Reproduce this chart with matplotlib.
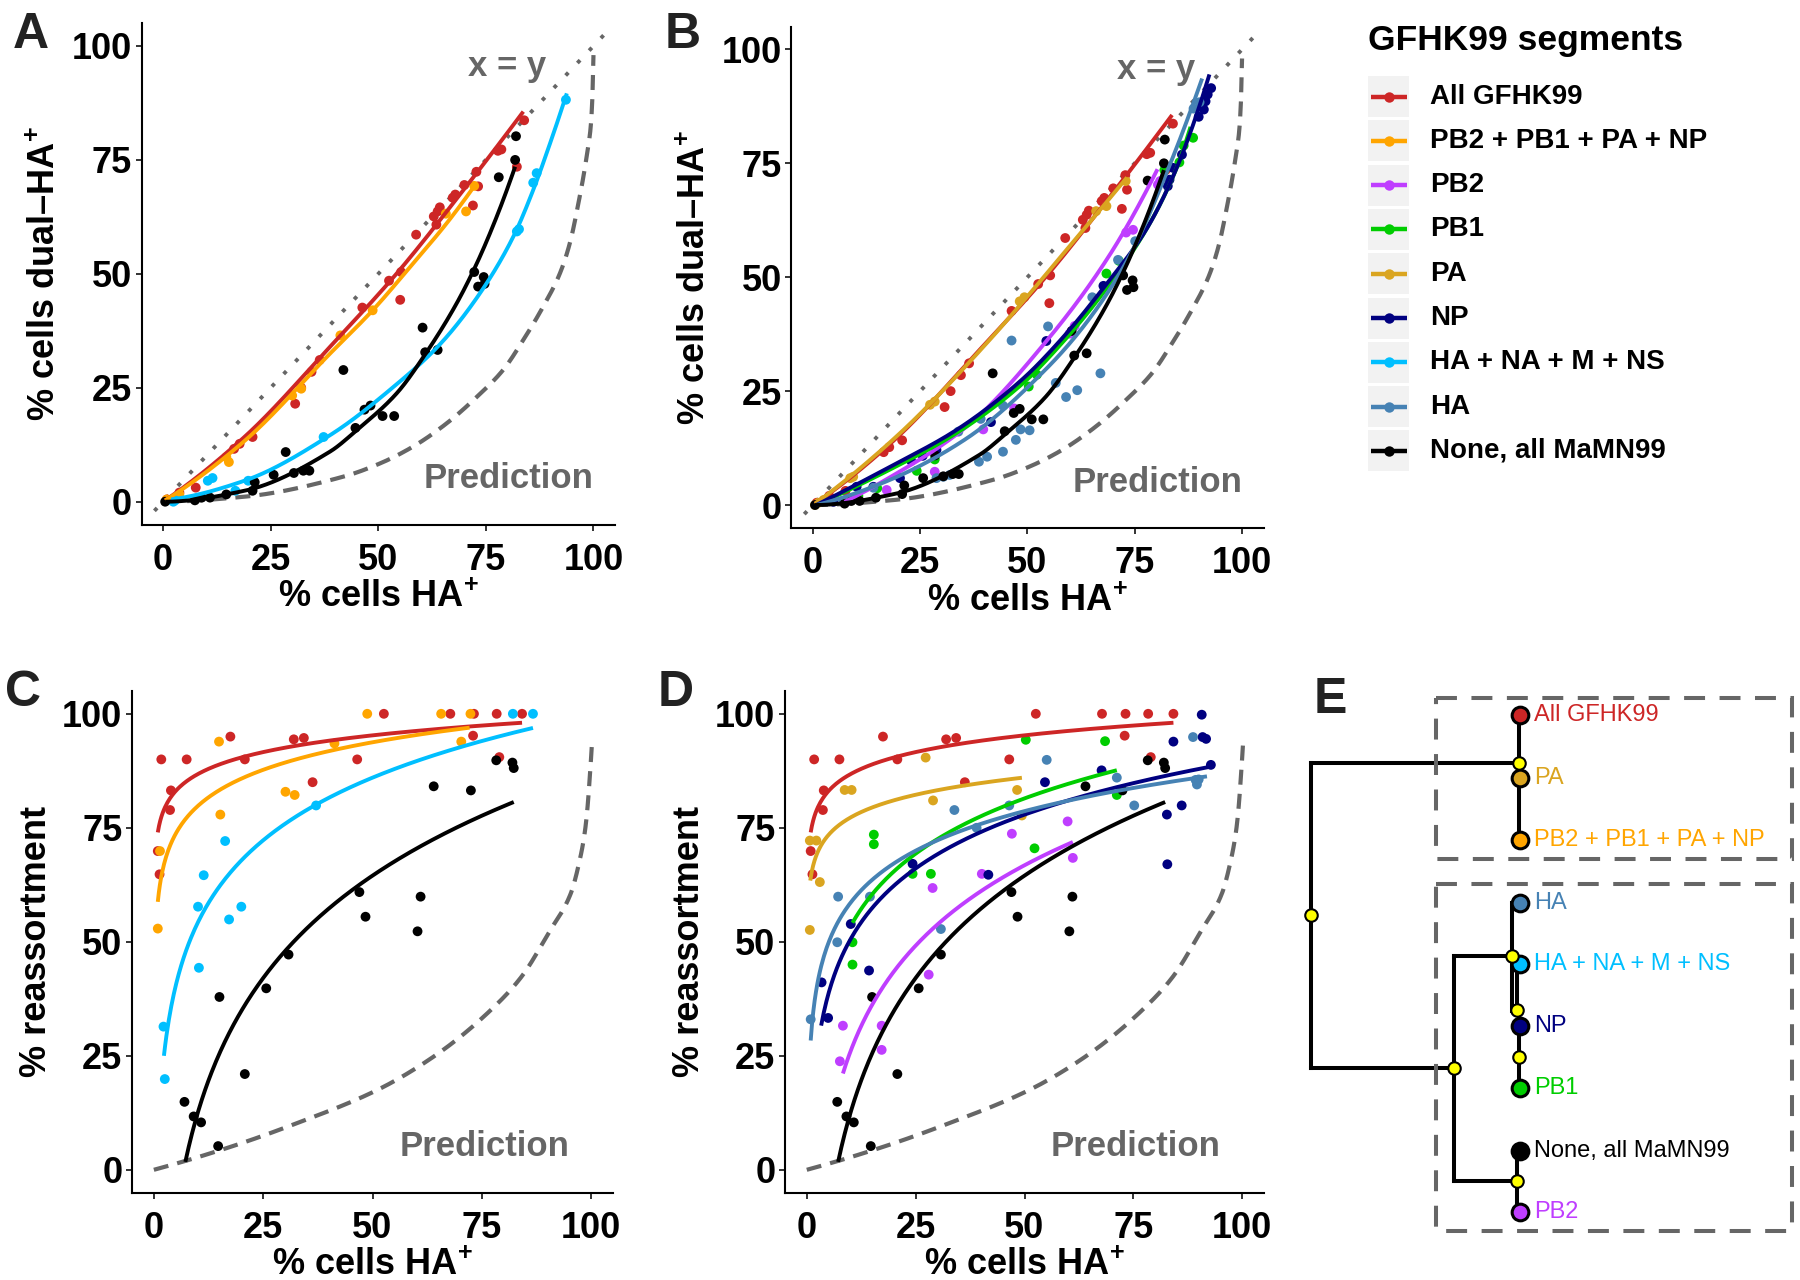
import numpy as np
import matplotlib
matplotlib.use("Agg")
import matplotlib.pyplot as plt
from matplotlib.patches import Rectangle

plt.rcParams['font.family'] = ['Liberation Sans', 'DejaVu Sans']
plt.rcParams['font.weight'] = 'bold'
plt.rcParams['axes.labelweight'] = 'bold'
plt.rcParams['mathtext.fontset'] = 'custom'
plt.rcParams['mathtext.rm'] = 'Liberation Sans:bold'
plt.rcParams['mathtext.bf'] = 'Liberation Sans:bold'

# ---------------- categories ----------------
segments = ['All GFHK99', 'PB2 + PB1 + PA + NP', 'PB2', 'PB1', 'PA', 'NP',
            'HA + NA + M + NS', 'HA', 'None, all MaMN99']
seg_colors = ['#CD2626', '#FFA500', '#BF3EFF', '#00CD00', '#DAA520', '#000080',
              '#00BFFF', '#4682B4', '#000000']
ticks = [0, 25, 50, 75, 100]

# ---------------- panels A/B : % dual-HA+ vs % HA+ ----------------
dual_all_x = [0.9, 3.8, 7.6, 16.5, 17.8, 20.8, 30.7, 32.1, 34.5, 36.4, 46.3, 52.5, 55.3, 55.1, 58.8,
              62.9, 63.5, 63.8, 64.3, 67.3, 67.9, 70.0, 72.0, 72.8, 73.2, 77.8, 78.6, 82.2, 83.9]
dual_all_y = [0.5, 2.0, 3.1, 11.6, 12.7, 14.2, 21.5, 25.0, 28.5, 31.1, 42.6, 48.5, 50.4, 44.3, 58.6,
              62.6, 60.8, 63.7, 64.6, 66.7, 67.4, 69.5, 65.0, 72.4, 69.2, 77.0, 77.3, 73.5, 83.7]
dual_none_x = [0.5, 7.4, 9.0, 10.9, 14.7, 20.8, 21.3, 25.7, 28.5, 30.4, 32.6, 34.0, 41.9, 44.7,
               46.8, 48.2, 51.0, 53.7, 60.3, 60.9, 63.8, 72.3, 73.2, 74.5, 74.7, 78.0, 81.8, 82.0]
dual_none_y = [0.0, 0.3, 0.9, 0.9, 1.6, 2.4, 4.3, 5.9, 10.9, 6.3, 6.8, 6.8, 28.9, 16.2,
               20.2, 21.1, 18.8, 18.8, 38.2, 32.8, 33.3, 50.4, 47.2, 49.3, 47.8, 71.2, 75.0, 80.2]
dual_pb_x = [0.9, 3.8, 14.7, 15.3, 30.0, 32.1, 41.2, 48.7, 65.7, 70.4, 72.3]
dual_pb_y = [0.5, 1.6, 9.8, 8.7, 23.3, 24.8, 36.5, 42.0, 63.2, 63.7, 69.3]
dual_hanamns_x = [2.4, 2.8, 10.4, 11.5, 16.8, 19.8, 37.3, 82.2, 82.7, 86.0, 86.8, 93.6]
dual_hanamns_y = [0.0, 0.3, 4.6, 5.2, 2.4, 4.6, 14.2, 59.3, 59.8, 70.0, 72.1, 88.2]
dual_pb2_x = [8.0, 17.2, 28.4, 39.7, 46.9, 59.8, 61.0, 73.0, 74.6, 80.4, 80.9]
dual_pb2_y = [0.9, 3.3, 7.3, 16.6, 21.2, 37.6, 39.3, 59.8, 60.4, 70.3, 71.1]
dual_pb1_x = [10.6, 15.0, 24.2, 28.4, 50.3, 52.2, 68.4, 71.3, 81.9, 85.4, 86.4, 88.6]
dual_pb1_y = [2.0, 3.7, 7.5, 10.0, 26.0, 28.6, 50.8, 53.6, 73.5, 75.2, 78.9, 80.6]
dual_pa_x = [0.5, 1.3, 2.5, 8.7, 9.4, 27.3, 28.4, 48.2, 49.3, 66.0, 68.4, 72.9]
dual_pa_y = [0.0, 0.5, 1.1, 5.9, 6.2, 22.0, 22.7, 44.7, 45.6, 64.5, 65.6, 71.1]
dual_np_x = [4.8, 10.2, 14.1, 20.3, 22.9, 25.6, 28.8, 41.5, 54.4, 67.7, 82.7, 83.1, 83.9, 86.0,
             89.9, 91.1, 91.5, 92.0, 92.8]
dual_np_y = [0.7, 4.0, 4.0, 5.9, 9.7, 10.8, 12.1, 18.2, 36.0, 48.1, 70.0, 71.4, 74.0, 76.9,
             85.2, 86.8, 88.6, 90.1, 91.5]
dual_ha_x = [7.1, 14.1, 28.8, 30.4, 31.9, 33.9, 38.7, 39.1, 40.6, 44.3, 44.3, 46.3, 47.3, 48.4,
             50.5, 54.8, 56.6, 59.0, 61.6, 65.1, 67.0, 71.1, 75.1, 88.7, 90.1]
dual_ha_y = [0.9, 3.8, 5.9, 6.2, 6.6, 16.1, 9.5, 18.9, 10.6, 21.8, 11.7, 36.1, 14.3, 16.6,
             16.4, 39.2, 26.8, 23.7, 25.2, 45.6, 28.9, 53.8, 57.9, 87.0, 88.4]

# fitted curves
fit_dual_all_x = [0.5, 18.9, 38.8, 54.3, 69.8, 83.7]
fit_dual_all_y = [0.3, 14.2, 34.0, 50.1, 68.4, 85.6]
fit_dual_pb_x = [0.5, 18.9, 38.8, 48.8, 58.1, 65.9, 72.5]
fit_dual_pb_y = [0.3, 13.3, 32.5, 42.1, 52.3, 61.1, 69.5]
fit_dual_hanamns_x = [1.9, 18.9, 38.8, 54.3, 64.3, 73.6, 81.4, 86.0, 89.9, 93.8]
fit_dual_hanamns_y = [0.5, 4.6, 14.6, 25.8, 34.5, 45.7, 58.2, 68.4, 78.6, 89.6]
fit_dual_none_x = [0.5, 18.9, 38.8, 45.0, 54.3, 61.3, 68.2, 72.9, 77.5, 81.8]
fit_dual_none_y = [0.0, 2.4, 11.0, 15.7, 23.8, 32.9, 43.5, 52.3, 62.5, 73.5]
fit_dual_pa_x = [0.5, 20.0, 40.0, 60.0, 73.2]
fit_dual_pa_y = [0.3, 15.5, 35.0, 57.0, 71.9]
fit_dual_np_x = [0.8, 18.0, 33.5, 48.7, 58.0, 68.0, 77.7, 84.6, 92.4]
fit_dual_np_y = [0.0, 8.4, 16.5, 27.5, 36.5, 48.0, 60.5, 73.6, 94.5]
fit_dual_pb1_x = [0.8, 18.0, 33.5, 48.7, 58.0, 68.0, 77.7, 84.6, 88.0]
fit_dual_pb1_y = [0.0, 7.8, 15.8, 26.5, 35.5, 47.0, 60.5, 73.6, 83.0]
fit_dual_pb2_x = [7.4, 16.9, 35.8, 54.7, 68.9, 80.3]
fit_dual_pb2_y = [0.7, 5.5, 17.2, 36.3, 54.5, 73.7]
fit_dual_ha_x = [0.8, 16.9, 35.8, 54.7, 64.2, 73.7, 83.1, 90.7]
fit_dual_ha_y = [0.0, 5.1, 14.6, 30.2, 40.6, 54.5, 74.5, 93.6]

pred_dual_x = [0, 18.9, 41.9, 50.4, 58.1, 65.9, 72.9, 79.0, 83.7, 88.3, 92.2, 94.5, 96.5, 98.4,
               99.6, 100.0]
pred_dual_y = [0, 1.1, 5.5, 8.4, 12.1, 17.2, 23.0, 28.9, 35.5, 42.8, 50.1, 56.7, 65.5, 75.7,
               85.2, 98.0]

# ---------------- panels C/D : % reassortment vs % HA+ ----------------
reas_all_x = [0.9, 1.3, 1.7, 3.7, 3.9, 7.5, 17.5, 20.8, 32.0, 34.3, 36.3, 46.5, 52.6, 67.8,
              73.0, 73.2, 78.4, 79.0, 84.2]
reas_all_y = [69.9, 64.8, 90.0, 78.9, 83.2, 90.0, 95.0, 90.0, 94.4, 94.7, 85.0, 90.0, 100, 100,
              95.2, 100, 100, 90.5, 100]
reas_none_x = [7.0, 9.1, 10.8, 14.7, 15.0, 20.8, 25.7, 30.8, 47.0, 48.4, 60.3, 61.0, 64.0,
               72.5, 78.3, 82.0, 82.3]
reas_none_y = [14.9, 11.7, 10.4, 5.2, 37.9, 21.0, 39.8, 47.2, 60.9, 55.5, 52.3, 59.9, 84.1,
               83.2, 89.8, 89.3, 88.1]
reas_pb_x = [0.9, 1.4, 14.9, 15.2, 30.1, 32.2, 41.3, 48.8, 65.7, 70.3, 72.4]
reas_pb_y = [52.9, 69.9, 93.9, 77.9, 82.9, 82.2, 93.5, 100, 100, 93.9, 100]
reas_hanamns_x = [2.2, 2.5, 10.1, 10.3, 11.4, 16.3, 17.2, 20.0, 37.1, 82.1, 86.7]
reas_hanamns_y = [31.4, 19.9, 57.7, 44.3, 64.6, 72.1, 54.9, 57.7, 79.9, 100, 100]
reas_pa_x = [0.7, 0.7, 2.2, 3.0, 8.7, 10.3, 27.3, 29.0, 48.3, 49.4]
reas_pa_y = [52.6, 72.2, 72.2, 63.1, 83.3, 83.3, 90.4, 81.0, 83.3, 77.7]
reas_pb1_x = [10.5, 10.5, 15.4, 15.4, 24.3, 28.5, 50.3, 52.3, 68.5, 71.2]
reas_pb1_y = [49.9, 45.0, 73.5, 71.4, 64.9, 64.9, 94.3, 70.5, 94.0, 82.2]
reas_np_x = [3.4, 4.9, 10.1, 14.3, 24.3, 41.7, 54.7, 67.7, 82.7, 82.8, 84.2, 86.1, 90.7, 90.9,
             91.7, 92.8]
reas_np_y = [41.1, 33.3, 53.9, 43.7, 67.1, 64.7, 85.0, 87.6, 77.9, 67.0, 93.9, 79.9, 99.8, 94.9,
             94.5, 88.8]
reas_ha_x = [0.9, 7.0, 7.2, 14.5, 30.8, 33.9, 39.0, 46.5, 55.1, 71.2, 75.2, 88.7, 89.3, 90.0, 89.6]
reas_ha_y = [33.0, 49.9, 59.9, 59.9, 52.8, 78.9, 75.0, 79.9, 89.9, 86.0, 79.9, 94.9, 85.5, 85.6, 84.5]
reas_pb2_x = [7.6, 8.3, 17.2, 17.2, 28.0, 28.9, 40.2, 47.1, 59.9, 61.1]
reas_pb2_y = [23.8, 31.6, 31.6, 26.3, 42.8, 61.8, 64.9, 73.7, 76.4, 68.4]

fit_reas_all_x = [0.9, 3.9, 9.1, 20.6, 36.0, 53.6, 84.2]
fit_reas_all_y = [74.0, 81.6, 86.8, 90.1, 93.4, 95.7, 98.2]
fit_reas_none_x = [7.2, 10.7, 16.8, 24.5, 32.1, 44.0, 53.6, 59.7, 82.3]
fit_reas_none_y = [0.0, 16.0, 31.0, 41.2, 49.3, 59.6, 66.5, 70.5, 81.0]
fit_reas_pb_x = [0.9, 3.9, 8.6, 17.0, 30.0, 48.8, 72.2]
fit_reas_pb_y = [59.2, 70.9, 78.7, 84.0, 89.2, 93.5, 97.4]
fit_reas_hanamns_x = [2.3, 4.9, 11.4, 20.8, 37.1, 58.2, 86.7]
fit_reas_hanamns_y = [23.6, 42.3, 57.0, 67.4, 79.9, 88.3, 97.8]
fit_reas_pa_x = [0.8, 3.0, 9.1, 16.8, 29.0, 49.4]
fit_reas_pa_y = [63.4, 70.8, 76.6, 79.9, 83.2, 86.0]
fit_reas_pb1_x = [10.5, 16.8, 28.3, 39.8, 53.6, 71.2]
fit_reas_pb1_y = [54.5, 62.7, 70.7, 76.6, 83.2, 88.1]
fit_reas_np_x = [3.3, 9.1, 16.8, 28.3, 39.8, 53.6, 67.4, 92.7]
fit_reas_np_y = [31.3, 48.8, 59.8, 68.6, 74.1, 78.8, 83.2, 87.9]
fit_reas_ha_x = [0.9, 3.8, 9.1, 16.8, 28.3, 39.8, 53.6, 67.4, 91.9]
fit_reas_ha_y = [30.2, 45.2, 56.1, 63.8, 70.8, 75.9, 80.3, 83.9, 86.4]
fit_reas_pb2_x = [8.3, 12.9, 20.6, 32.0, 43.5, 53.6, 61.1]
fit_reas_pb2_y = [20.0, 34.2, 44.4, 54.7, 62.0, 68.9, 72.6]

pred_reas_x = [0, 16.8, 32.1, 51.3, 65.0, 78.1, 84.2, 90.3, 95.3, 97.2, 98.7, 100.2]
pred_reas_y = [0, 4.8, 10.0, 17.6, 25.5, 36.0, 42.5, 52.0, 60.5, 67.1, 75.1, 93.7]

# ---------------- panel E : tree ----------------
tree_leaves = ['All GFHK99', 'PA', 'PB2 + PB1 + PA + NP', 'HA', 'HA + NA + M + NS', 'NP',
               'PB1', 'None, all MaMN99', 'PB2']


# ---------------- helpers ----------------
def pchip(x, y, n=400):
    x = np.asarray(x, float)
    y = np.asarray(y, float)
    h = np.diff(x)
    d = np.diff(y) / h
    m = np.zeros_like(y)
    for k in range(1, len(x) - 1):
        if d[k - 1] * d[k] > 0:
            w1 = 2 * h[k] + h[k - 1]
            w2 = h[k] + 2 * h[k - 1]
            m[k] = (w1 + w2) / (w1 / d[k - 1] + w2 / d[k])

    def endslope(h0, h1, d0, d1):
        s = ((2 * h0 + h1) * d0 - h0 * d1) / (h0 + h1)
        if np.sign(s) != np.sign(d0):
            s = 0.0
        elif np.sign(d0) != np.sign(d1) and abs(s) > abs(3 * d0):
            s = 3 * d0
        return s
    if len(x) > 2:
        m[0] = endslope(h[0], h[1], d[0], d[1])
        m[-1] = endslope(h[-1], h[-2], d[-1], d[-2])
    else:
        m[:] = d[0]
    g = np.linspace(x[0], x[-1], n)
    idx = np.clip(np.searchsorted(x, g) - 1, 0, len(x) - 2)
    t = (g - x[idx]) / h[idx]
    h00 = 2 * t**3 - 3 * t**2 + 1
    h10 = t**3 - 2 * t**2 + t
    h01 = -2 * t**3 + 3 * t**2
    h11 = t**3 - t**2
    out = h00 * y[idx] + h10 * h[idx] * m[idx] + h01 * y[idx + 1] + h11 * h[idx] * m[idx + 1]
    return g, out


def logfit(x, y, n=300):
    x = np.asarray(x, float)
    y = np.asarray(y, float)
    c = np.polyfit(np.log(x), y, 1)
    g = np.linspace(x.min(), x.max(), n)
    return g, np.polyval(c, np.log(g))


GRAY = '#666666'
W, H = 1800, 1280
fig = plt.figure(figsize=(18, 12.8), dpi=100)

# overlay axes in pixel coordinates (letters, legend, panel E)
ov = fig.add_axes([0, 0, 1, 1], zorder=-1)
ov.set_xlim(0, W)
ov.set_ylim(H, 0)
ov.axis('off')


def make_axes(left, right, top, bottom):
    ax = fig.add_axes([left / W, 1 - bottom / H, (right - left) / W, (bottom - top) / H])
    ax.set_facecolor('none')
    ax.set_xlim(-5, 105)
    ax.set_ylim(-5, 105)
    ax.set_xticks(ticks)
    ax.set_yticks(ticks)
    for s in ['top', 'right']:
        ax.spines[s].set_visible(False)
    for s in ['left', 'bottom']:
        ax.spines[s].set_linewidth(1.5)
    ax.tick_params(axis='both', length=4, width=1.4, color='#333333', labelsize=26,
                   labelcolor='black')
    ax.tick_params(axis='x', pad=9)
    ax.tick_params(axis='y', pad=3)
    for lb in ax.get_xticklabels() + ax.get_yticklabels():
        lb.set_fontweight('bold')
    return ax


def scatter_and_fit(ax, series, fitter):
    for xs, ys, fx, fy, c in series:
        ax.scatter(xs, ys, s=50, color=c, edgecolors='none', zorder=3)
    for xs, ys, fx, fy, c in series:
        gx, gy = fitter(fx, fy)
        ax.plot(gx, gy, color=c, lw=2.8, zorder=4, solid_capstyle='butt')


col = dict(zip(segments, seg_colors))

axA = make_axes(141.5, 615, 23.2, 524.5)
axB = make_axes(791.4, 1263.5, 26.6, 527.8)
for ax in (axA, axB):
    ax.plot([-2, 103], [-2, 103], color=GRAY, lw=2.8, dashes=(1, 3.4), zorder=2)
    px, py = pchip(pred_dual_x, pred_dual_y)
    ax.plot(px, py, color=GRAY, lw=3, dashes=(3.6, 2.2), zorder=2)
    ax.text(80, 95.5, 'x = y', color=GRAY, fontsize=25, fontweight='bold', ha='center', va='center')
    ax.text(100, 5, 'Prediction', color=GRAY, fontsize=25, fontweight='bold', ha='right', va='center')
    ax.set_xlabel('% cells HA$^{+}$', fontsize=26, fontweight='bold', labelpad=2)
    ax.set_ylabel('% cells dual\u2013HA$^{+}$', fontsize=26, fontweight='bold', labelpad=6)

scatter_and_fit(axA, [
    (dual_all_x, dual_all_y, fit_dual_all_x, fit_dual_all_y, col['All GFHK99']),
    (dual_pb_x, dual_pb_y, fit_dual_pb_x, fit_dual_pb_y, col['PB2 + PB1 + PA + NP']),
    (dual_hanamns_x, dual_hanamns_y, fit_dual_hanamns_x, fit_dual_hanamns_y, col['HA + NA + M + NS']),
    (dual_none_x, dual_none_y, fit_dual_none_x, fit_dual_none_y, col['None, all MaMN99']),
], pchip)

scatter_and_fit(axB, [
    (dual_all_x, dual_all_y, fit_dual_all_x, fit_dual_all_y, col['All GFHK99']),
    (dual_pb2_x, dual_pb2_y, fit_dual_pb2_x, fit_dual_pb2_y, col['PB2']),
    (dual_pb1_x, dual_pb1_y, fit_dual_pb1_x, fit_dual_pb1_y, col['PB1']),
    (dual_pa_x, dual_pa_y, fit_dual_pa_x, fit_dual_pa_y, col['PA']),
    (dual_np_x, dual_np_y, fit_dual_np_x, fit_dual_np_y, col['NP']),
    (dual_ha_x, dual_ha_y, fit_dual_ha_x, fit_dual_ha_y, col['HA']),
    (dual_none_x, dual_none_y, fit_dual_none_x, fit_dual_none_y, col['None, all MaMN99']),
], pchip)

axC = make_axes(132, 613, 691, 1192.6)
axD = make_axes(785, 1264, 691, 1192.6)
for ax in (axC, axD):
    px, py = pchip(pred_reas_x, pred_reas_y)
    ax.plot(px, py, color=GRAY, lw=3, dashes=(3.6, 2.2), zorder=2)
    ax.text(95, 5, 'Prediction', color=GRAY, fontsize=25, fontweight='bold', ha='right', va='center')
    ax.set_xlabel('% cells HA$^{+}$', fontsize=26, fontweight='bold', labelpad=2)
    ax.set_ylabel('% reassortment', fontsize=26, fontweight='bold', labelpad=6)

scatter_and_fit(axC, [
    (reas_all_x, reas_all_y, fit_reas_all_x, fit_reas_all_y, col['All GFHK99']),
    (reas_pb_x, reas_pb_y, fit_reas_pb_x, fit_reas_pb_y, col['PB2 + PB1 + PA + NP']),
    (reas_hanamns_x, reas_hanamns_y, fit_reas_hanamns_x, fit_reas_hanamns_y, col['HA + NA + M + NS']),
    (reas_none_x, reas_none_y, fit_reas_none_x, fit_reas_none_y, col['None, all MaMN99']),
], logfit)

scatter_and_fit(axD, [
    (reas_all_x, reas_all_y, fit_reas_all_x, fit_reas_all_y, col['All GFHK99']),
    (reas_pb2_x, reas_pb2_y, fit_reas_pb2_x, fit_reas_pb2_y, col['PB2']),
    (reas_pb1_x, reas_pb1_y, fit_reas_pb1_x, fit_reas_pb1_y, col['PB1']),
    (reas_pa_x, reas_pa_y, fit_reas_pa_x, fit_reas_pa_y, col['PA']),
    (reas_np_x, reas_np_y, fit_reas_np_x, fit_reas_np_y, col['NP']),
    (reas_ha_x, reas_ha_y, fit_reas_ha_x, fit_reas_ha_y, col['HA']),
    (reas_none_x, reas_none_y, fit_reas_none_x, fit_reas_none_y, col['None, all MaMN99']),
], logfit)

# ---- panel letters ----
for letter, (lx, ly) in zip('ABCDE', [(13, 48), (665, 48), (5, 706), (658, 706), (1314, 713)]):
    ov.text(lx, ly, letter, fontsize=36, fontweight='bold', color='#222222', ha='left', va='baseline')

# ---- legend ----
ov.text(1368, 40.5, 'GFHK99 segments', fontsize=25.5, fontweight='bold', ha='left', va='center')
for i, (lab, c) in enumerate(zip(segments, seg_colors)):
    yc = 96.5 + i * 44.3
    ov.add_patch(Rectangle((1368, yc - 20.5), 41, 41, facecolor='#F2F2F2', edgecolor='none'))
    ov.plot([1371, 1407], [yc, yc], color=c, lw=3.2, solid_capstyle='butt')
    ov.plot([1389], [yc], 'o', color=c, ms=7.5, mec='none')
    ov.text(1430, yc, lab, fontsize=20, fontweight='bold', ha='left', va='center')

# ---- panel E : tree ----
leaf_x = 1520
leaf_y = [715.2, 777.6, 839.5, 902.6, 963.7, 1026, 1088, 1151, 1212]
tree_lw = 2.9
segs = [
    ((1310.7, 762.6), (1310.7, 1068)),
    ((1310.7, 762.6), (1519.3, 762.6)),
    ((1310.7, 1068), (1454, 1068)),
    ((1519.3, 715.2), (1519.3, 839.5)),
    ((1454, 956), (1454, 1180.7)),
    ((1454, 956), (1511.7, 956)),
    ((1454, 1180.7), (1516.7, 1180.7)),
    ((1511.7, 902.6), (1511.7, 1011)),
    ((1517.3, 963.7), (1517.3, 1010.3)),
    ((1519.3, 1010.3), (1519.3, 1088)),
    ((1517.3, 1151), (1517.3, 1212)),
]
for (x0, y0), (x1, y1) in segs:
    ov.plot([x0, x1], [y0, y1], color='black', lw=tree_lw, solid_capstyle='projecting', zorder=2)
for lab, y in zip(tree_leaves, leaf_y):
    c = col[lab]
    ov.plot([leaf_x], [y], 'o', ms=12, mfc=c, mec='black', mew=2.2, zorder=3)
    ov.text(leaf_x + 14, y, lab, color=c, fontsize=17, fontweight='normal', ha='left',
            va='center', zorder=3)
yellow_nodes = [(1310.7, 915), (1519.3, 762.6), (1511.7, 956), (1517.3, 1010.3),
                (1519.3, 1057.2), (1454, 1068), (1516.7, 1180.7)]
for x, y in yellow_nodes:
    ov.plot([x], [y], 'o', ms=9, mfc='#FFFF00', mec='black', mew=1.5, zorder=3)
for (bx0, by0, bx1, by1) in [(1436, 697.5, 1791.7, 859.2), (1436, 884, 1791.7, 1230.8)]:
    ov.add_patch(Rectangle((bx0, by0), bx1 - bx0, by1 - by0, fill=False, edgecolor=GRAY,
                           lw=2.9, linestyle=(0, (5.2, 3.6)), zorder=4))

fig.savefig('out.png', dpi=100, facecolor='white')
